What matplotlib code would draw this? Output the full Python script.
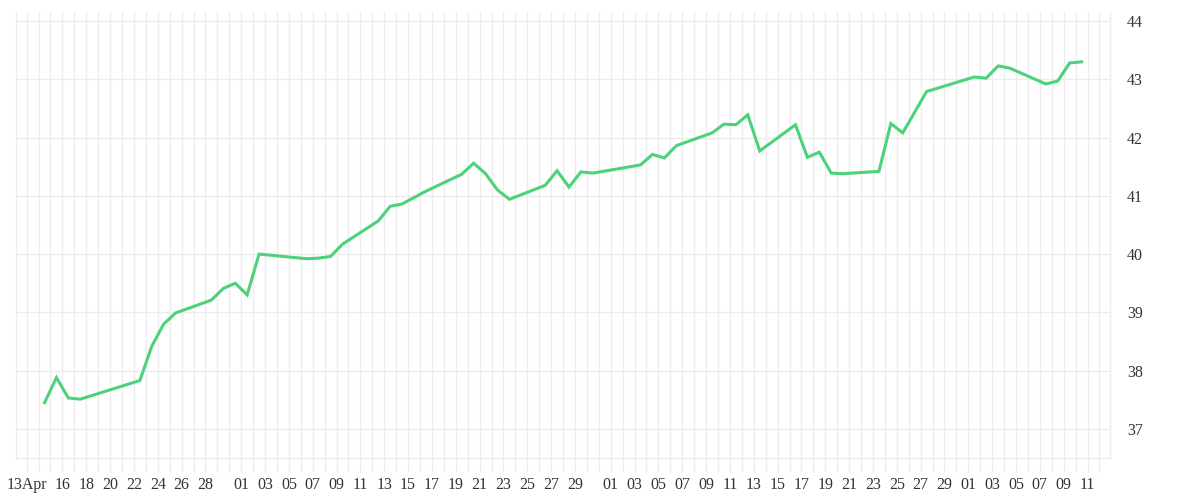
import numpy as np
import pandas as pd
import matplotlib
matplotlib.use("Agg")
import matplotlib.pyplot as plt
import matplotlib.dates as mdates
from matplotlib.ticker import FixedLocator, FixedFormatter

# trading days (2025) and closing values
dates = [
    "2025-04-14", "2025-04-15", "2025-04-16", "2025-04-17",
    "2025-04-22", "2025-04-23", "2025-04-24", "2025-04-25",
    "2025-04-28", "2025-04-29", "2025-04-30", "2025-05-01", "2025-05-02",
    "2025-05-06", "2025-05-07", "2025-05-08", "2025-05-09",
    "2025-05-12", "2025-05-13", "2025-05-14", "2025-05-16",
    "2025-05-19", "2025-05-20", "2025-05-21", "2025-05-22", "2025-05-23",
    "2025-05-26", "2025-05-27", "2025-05-28", "2025-05-29", "2025-05-30",
    "2025-06-03", "2025-06-04", "2025-06-05", "2025-06-06",
    "2025-06-09", "2025-06-10", "2025-06-11", "2025-06-12", "2025-06-13",
    "2025-06-16", "2025-06-17", "2025-06-18", "2025-06-19", "2025-06-20",
    "2025-06-23", "2025-06-24", "2025-06-25", "2025-06-27",
    "2025-07-01", "2025-07-02", "2025-07-03", "2025-07-04",
    "2025-07-07", "2025-07-08", "2025-07-09", "2025-07-10",
]
values = [
    37.45, 37.88, 37.53, 37.51,
    37.83, 38.42, 38.80, 38.99,
    39.21, 39.41, 39.50, 39.30, 40.00,
    39.92, 39.93, 39.96, 40.17,
    40.57, 40.82, 40.86, 41.08,
    41.37, 41.56, 41.38, 41.10, 40.94,
    41.18, 41.43, 41.15, 41.41, 41.39,
    41.53, 41.71, 41.65, 41.86,
    42.08, 42.23, 42.22, 42.39, 41.77,
    42.22, 41.66, 41.75, 41.39, 41.38,
    41.42, 42.24, 42.08, 42.79,
    43.04, 43.02, 43.23, 43.19,
    42.92, 42.97, 43.28, 43.30,
]

# x tick labels
tick_dates = (["2025-04-13"]
              + ["2025-04-%02d" % d for d in range(16, 29, 2)]
              + ["2025-05-%02d" % d for d in range(1, 30, 2)]
              + ["2025-06-%02d" % d for d in range(1, 30, 2)]
              + ["2025-07-%02d" % d for d in range(1, 12, 2)])
tick_labels = ["13Apr"] + [t[-2:] for t in tick_dates[1:]]
y_ticks = [37, 38, 39, 40, 41, 42, 43, 44]

plt.rcParams['font.family'] = ['Liberation Serif', 'DejaVu Serif']

grid_c = '#ececec'
fig = plt.figure(figsize=(12, 5), dpi=100)
ax = fig.add_axes([0.0131, 0.084, 0.9122, 0.8914])

x = pd.to_datetime(dates) + pd.Timedelta(hours=12)
ax.plot(x, values, color='#4cd27a', lw=2.2, solid_joinstyle='miter', zorder=3)

start = pd.Timestamp("2025-04-13")
end = pd.Timestamp("2025-07-12")
pad = pd.Timedelta(hours=22)
ax.set_xlim(start - pad, end + pad)
ax.set_ylim(36.5, 44.15)

ax.xaxis.set_minor_locator(mdates.DayLocator())
tick_num = mdates.date2num(pd.to_datetime(tick_dates))
ax.xaxis.set_major_locator(FixedLocator(tick_num))
ax.xaxis.set_major_formatter(FixedFormatter(tick_labels))
ax.tick_params(axis='x', which='both', length=10, width=1, color=grid_c,
               labelsize=11.5, labelcolor='#333333', pad=4)
ax.grid(axis='x', which='both', color=grid_c, lw=1)

ax.set_yticks(y_ticks)
ax.yaxis.tick_right()
ax.tick_params(axis='y', length=0, labelsize=11.5, labelcolor='#333333', pad=12)
ax.grid(axis='y', which='major', color=grid_c, lw=1)

ax.spines['top'].set_visible(False)
for s in ['left', 'right', 'bottom']:
    ax.spines[s].set_color(grid_c)
    ax.spines[s].set_linewidth(1)
ax.set_axisbelow(True)

fig.savefig("out.png", dpi=100)
